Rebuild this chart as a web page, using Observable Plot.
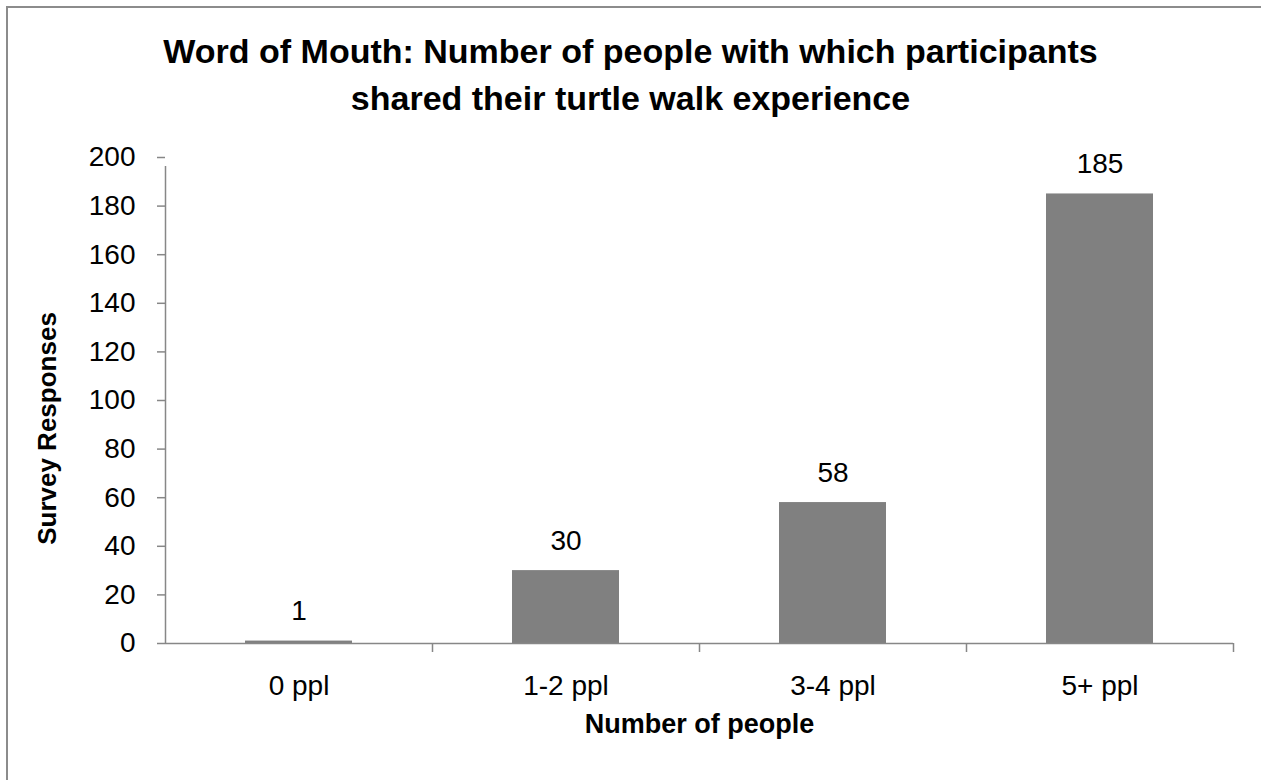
<!DOCTYPE html>
<html>
<head>
<meta charset="utf-8">
<script src="https://cdn.jsdelivr.net/npm/d3@7"></script>
<script src="https://cdn.jsdelivr.net/npm/@observablehq/plot@0.6"></script>
<style>
  html, body { margin: 0; padding: 0; background: #fff; overflow: hidden; }
  #frame { position: absolute; left: 6px; top: 6px; width: 1400px; height: 900px; border: 2px solid #8c8c8c; box-sizing: border-box; }
  #wrap { position: relative; width: 1261px; height: 780px; font-family: "Liberation Sans", Arial, sans-serif; }
  #title { height: 140px; box-sizing: border-box; padding-top: 28px; text-align: center; font-weight: bold; font-size: 34px; line-height: 47px; color: #000; }
  #chart svg { display: block; }
</style>
</head>
<body>
<div id="frame"></div>
<div id="wrap">
  <div id="title">Word of Mouth: Number of people with which participants<br>shared their turtle walk experience</div>
  <div id="chart"></div>
</div>
<script>
const categories = ["0 ppl", "1-2 ppl", "3-4 ppl", "5+ ppl"];
const responses = [1, 30, 58, 185];
const yTicks = [0, 20, 40, 60, 80, 100, 120, 140, 160, 180, 200];
const xTitle = "Number of people";
const yTitle = "Survey Responses";

const data = categories.map((c, i) => ({category: c, value: responses[i]}));

const width = 1261, height = 640;
const marginLeft = 165, marginRight = 28, marginTop = 17, marginBottom = 137;
const step = (width - marginLeft - marginRight) / categories.length;
const axisColor = "#878787";

const chart = Plot.plot({
  width, height, marginLeft, marginRight, marginTop, marginBottom,
  style: {fontFamily: '"Liberation Sans", Arial, sans-serif', fontSize: "28px", color: "#000", background: "transparent", overflow: "visible"},
  x: {domain: categories, paddingInner: 0.6, paddingOuter: 0.3},
  y: {domain: [0, 200]},
  marks: [
    Plot.barY(data, {x: "category", y: "value", fill: "#808080"}),
    Plot.ruleY([0], {stroke: axisColor, strokeWidth: 1.5}),
    Plot.ruleX([categories[0]], {x: d => d, y1: 0, y2: 200, dx: -step / 2, insetBottom: -9, stroke: axisColor, strokeWidth: 1.5}),
    Plot.ruleX(categories, {x: d => d, y1: 0, y2: 0, dx: step / 2, insetBottom: -9, stroke: axisColor, strokeWidth: 1.5}),
    Plot.axisY({ticks: yTicks, tickSize: 8, tickPadding: 22, stroke: axisColor, strokeWidth: 1.5, fill: "#000", fontSize: 28, label: null, tickFormat: d => String(d)}),
    Plot.axisX({tickSize: 0, tickPadding: 32, fill: "#000", fontSize: 28, label: null}),
    Plot.text(data, {x: "category", y: "value", text: d => String(d.value), dy: -30, fontSize: 28, fill: "#000"}),
    Plot.text([xTitle], {frameAnchor: "bottom", dy: 89, fontWeight: "bold", fontSize: 27, fill: "#000"}),
    Plot.text([yTitle], {frameAnchor: "left", textAnchor: "middle", dx: -118, dy: 28, rotate: -90, fontWeight: "bold", fontSize: 26, fill: "#000"})
  ]
});
document.getElementById("chart").appendChild(chart);
</script>
</body>
</html>
